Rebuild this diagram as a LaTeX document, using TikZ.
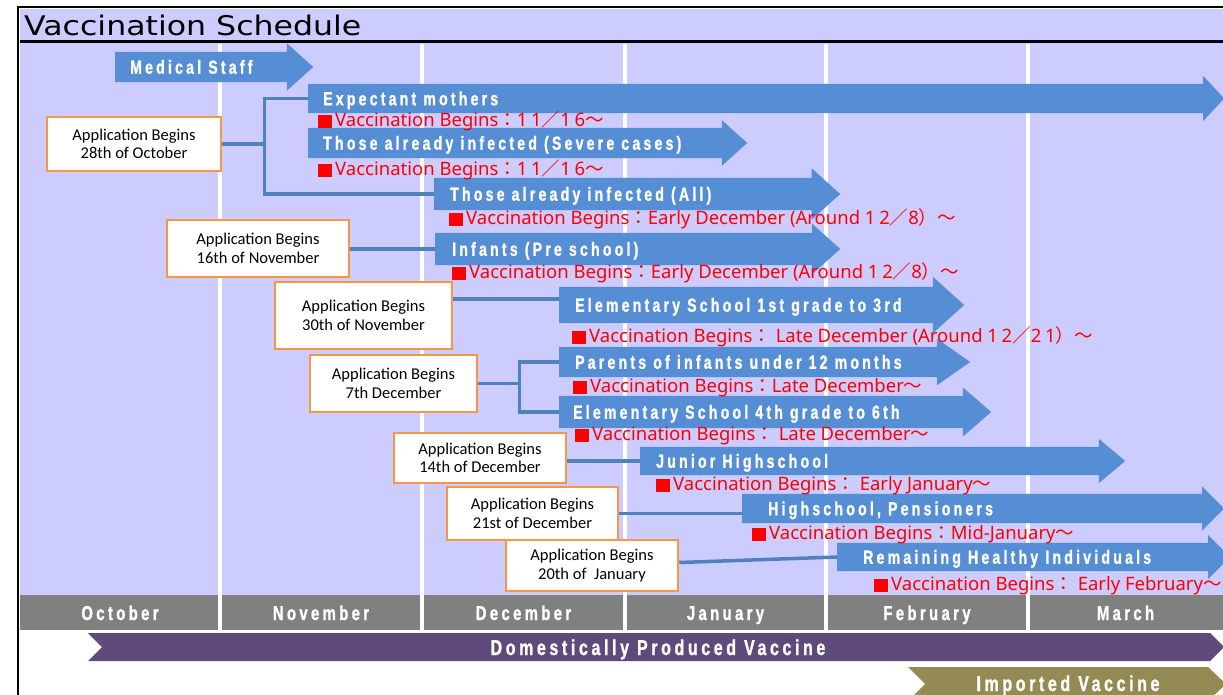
\documentclass[tikz,border=0pt]{standalone}
\usepackage{fontspec}
\usepackage{tikz}
\usetikzlibrary{shapes,arrows,positioning}
\setmainfont{Carlito}
\newfontfamily\titlefont[FakeStretch=1.17]{DejaVu Sans}
\newfontfamily\arrfont[FakeStretch=0.74,LetterSpace=17,FakeBold=1.2]{Liberation Sans}
\newfontfamily\lblfont{Noto Sans}
\newfontfamily\digfont[LetterSpace=20]{Noto Sans}
\newfontfamily\cjk{Noto Sans CJK JP}
\definecolor{lav}{HTML}{CCCCFF}
\definecolor{arrblue}{HTML}{558ED5}
\definecolor{connblue}{HTML}{4F81BD}
\definecolor{boxorange}{HTML}{F79646}
\definecolor{mgray}{HTML}{808080}
\definecolor{purp}{HTML}{604A7B}
\definecolor{oliv}{HTML}{948A54}
\newcommand{\fw}[1]{{\cjk#1}}
\newcommand{\dg}[1]{{\digfont#1}}
\newcommand{\redsq}{\rule[-1.5pt]{14pt}{13.5pt}\kern3pt}
\tikzset{
barrow/.style={single arrow,fill=arrblue,inner xsep=0pt,anchor=tail,single arrow tip angle=84},
atext/.style={text=white,font=\arrfont\bfseries\fontsize{19}{21}\selectfont,inner sep=0pt,text height=13.5pt,text depth=0pt,anchor=west},
mtext/.style={text=white,font=\arrfont\bfseries\fontsize{20}{22}\selectfont,inner sep=0pt,anchor=base},
bartext/.style={text=white,font=\arrfont\bfseries\fontsize{21.5}{23}\selectfont,inner sep=0pt,anchor=base},
appbox/.style={draw=boxorange,line width=2.5pt,fill=white,align=center,inner sep=0pt,font=\fontsize{16.5}{18.5}\selectfont},
vlabel/.style={text=red,font=\lblfont\fontsize{18.5}{20}\selectfont,inner sep=0pt,anchor=west},
conn/.style={draw=connblue,line width=3.5pt}
}
\begin{document}
\begin{tikzpicture}[x=1pt,y=-1pt]
\useasboundingbox(0,0)rectangle(1223,695);
% background and month grid
\fill[lav](20,9)rectangle(1223,595);
\draw[line width=2pt](18,695)--(18,7)--(1224,7);
\draw[line width=3pt](20,42)--(1223,42);
\node[anchor=west,inner sep=0pt,font=\titlefont\fontsize{27}{30}\selectfont](title)at(24,25){Vaccination Schedule};
\fill[mgray](20,595)rectangle(1223,630);
\foreach \x in {220,422,625,826,1028}
  \draw[white,line width=4pt](\x,44)--(\x,630);
\foreach \m/\x in {October/120,November/321,December/523.5,January/725.5,February/927,March/1125.5}
  \node[mtext](m\m)at(\x,620){\m};
% vaccine supply bars
\fill[purp](88,633)--(1210,633)--(1224,647)--(1210,661)--(88,661)--(102,647)--cycle;
\node[bartext](dom)at(658,655){Domestically Produced Vaccine};
\fill[oliv](908,667)--(1208,667)--(1226,684)--(1208,701)--(908,701)--(925,684)--cycle;
\node[bartext](imp)at(1068,691){Imported Vaccine};
% target groups
\node[barrow,minimum height=198,inner ysep=15,single arrow head extend=8.5](med)at(115,67){};
\node[barrow,minimum height=916,inner ysep=14.5,single arrow head extend=8,single arrow tip angle=94](expm)at(308,98.5){};
\node[barrow,minimum height=439,inner ysep=15,single arrow head extend=7.5](sev)at(308,143){};
\node[barrow,minimum height=406,inner ysep=16,single arrow head extend=9.5](all)at(434,194){};
\node[barrow,minimum height=405,inner ysep=16,single arrow head extend=9](inf)at(435,249){};
\node[barrow,minimum height=405,inner ysep=18,single arrow head extend=10](el1)at(559,305){};
\node[barrow,minimum height=411,inner ysep=15,single arrow head extend=8,single arrow tip angle=70](par)at(559,362){};
\node[barrow,minimum height=432,inner ysep=16,single arrow head extend=8.5,single arrow tip angle=82](el4)at(559,412){};
\node[barrow,minimum height=485,inner ysep=14,single arrow head extend=8,single arrow tip angle=80](jun)at(640,461){};
\node[barrow,minimum height=482,inner ysep=14.5,single arrow head extend=7.5,single arrow tip angle=90](hs)at(742,508.5){};
\node[barrow,minimum height=393,inner ysep=14,single arrow head extend=8,single arrow tip angle=90](rem)at(837,557){};
\node[atext](medT)[right=15pt of med.tail]{Medical Staff};
\node[atext](expmT)[right=15pt of expm.tail]{Expectant mothers};
\node[atext](sevT)[right=15pt of sev.tail]{Those already infected (Severe cases)};
\node[atext](allT)[right=16pt of all.tail]{Those already infected (All)};
\node[atext](infT)[right=17pt of inf.tail]{Infants (Pre school)};
\node[atext](el1T)[right=16pt of el1.tail]{Elementary School 1st grade to 3rd};
\node[atext](parT)[right=16pt of par.tail]{Parents of infants under 12 months};
\node[atext](el4T)[right=14pt of el4.tail]{Elementary School 4th grade to 6th};
\node[atext](junT)[right=16pt of jun.tail]{Junior Highschool};
\node[atext](hsT)[right=26pt of hs.tail]{Highschool, Pensioners};
\node[atext](remT)[right=26pt of rem.tail]{Remaining Healthy Individuals};
% vaccination start dates
\node[vlabel](expmV)at(318,121){\redsq Vaccination Begins\fw{：}\dg{11}\fw{／}\dg{16}\fw{～}};
\node[vlabel](sevV)at(318,170){\redsq Vaccination Begins\fw{：}\dg{11}\fw{／}\dg{16}\fw{～}};
\node[vlabel](allV)at(449,219){\redsq Vaccination Begins\fw{：}Early December (Around \dg{12}\fw{／}\dg{8}\fw{）～}};
\node[vlabel](infV)at(452,273){\redsq Vaccination Begins\fw{：}Early December (Around \dg{12}\fw{／}\dg{8}\fw{）～}};
\node[vlabel](el1V)at(572,337){\redsq Vaccination Begins\fw{：} Late December (Around \dg{12}\fw{／}\dg{21}\fw{）～}};
\node[vlabel](parV)at(573,388){\redsq Vaccination Begins\fw{：}Late December\fw{～}};
\node[vlabel](el4V)at(575,436){\redsq Vaccination Begins\fw{：} Late December\fw{～}};
\node[vlabel](junV)at(656,486){\redsq Vaccination Begins\fw{：} Early January\fw{～}};
\node[vlabel](hsV)at(752,535){\redsq Vaccination Begins\fw{：}Mid-January\fw{～}};
\node[vlabel](remV)at(874,586){\redsq Vaccination Begins\fw{：} Early February\fw{～}};
% application dates
\node[appbox,minimum width=174,minimum height=54](oct)at(134,144){Application Begins\\28th of October};
\node[appbox,minimum width=182,minimum height=57](nov16)at(258,248.5){Application Begins\\16th of November};
\node[appbox,minimum width=177,minimum height=67](nov30)at(363.5,315.5){Application Begins\\30th of November};
\node[appbox,minimum width=167,minimum height=57](dec7)at(393.5,383.5){Application Begins\\7th December};
\node[appbox,minimum width=172,minimum height=50](dec14)at(480,458){Application Begins\\14th of December};
\node[appbox,minimum width=171,minimum height=53](dec21)at(532.5,513.5){Application Begins\\21st of December};
\node[appbox,minimum width=172,minimum height=51](jan20)at(592,565.5){Application Begins\\20th of\ \ January};
\coordinate(j1)at([xshift=42pt]oct.east);
\coordinate(j2)at([xshift=41pt]dec7.east);
\coordinate(el1in)at([yshift=6pt]el1.tail);
\draw[conn](oct.east)--(j1);
\draw[conn](expm.tail)-|(j1)|-(all.tail);
\draw[conn](nov16.east|-inf.tail)--(inf.tail);
\draw[conn](nov30.east|-el1in)--(el1in);
\draw[conn](dec7.east)--(j2);
\draw[conn](par.tail)-|(j2)|-(el4.tail);
\draw[conn](dec14.east|-jun.tail)--(jun.tail);
\draw[conn](dec21.east)--(dec21.east-|hs.tail);
\draw[conn]([yshift=3pt]jan20.east)--(rem.tail);
\end{tikzpicture}
\end{document}
